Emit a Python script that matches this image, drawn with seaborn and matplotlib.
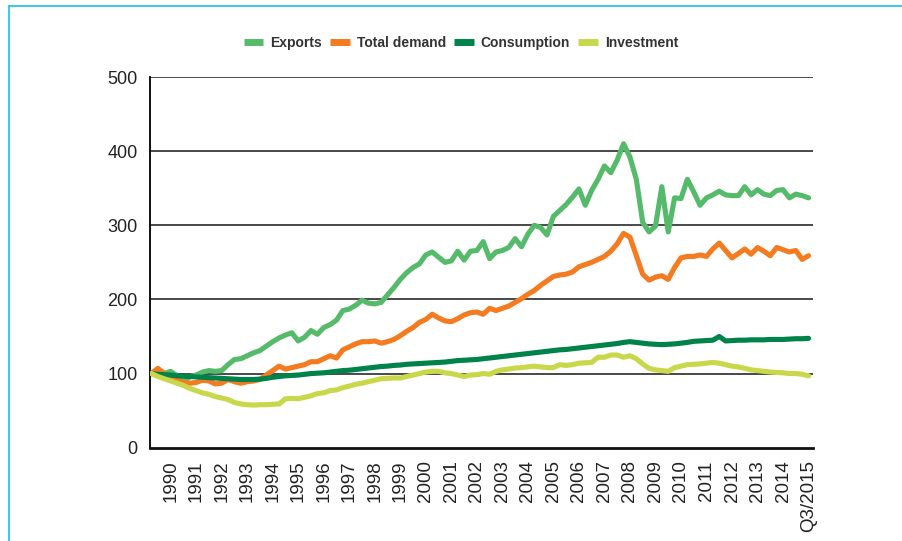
import numpy as np
import pandas as pd
import matplotlib
matplotlib.use("Agg")
import matplotlib.pyplot as plt
from matplotlib.lines import Line2D
import seaborn as sns

sns.set_style("white")
plt.rcParams['font.family'] = ['Liberation Sans', 'DejaVu Sans']

# quarterly index, 1990 = 100
exports = [100, 106, 100, 103, 97, 88, 96, 98, 102, 104, 103, 104, 112, 119, 120, 124,
           128, 131, 137, 143, 148, 152, 155, 144, 149, 158, 153, 162, 166, 172, 185, 187,
           192, 199, 195, 194, 196, 206, 216, 227, 236, 243, 248, 260, 264, 257, 250, 252,
           265, 253, 265, 266, 278, 255, 264, 266, 270, 282, 271, 288, 300, 297, 287, 312,
           320, 328, 338, 349, 327, 347, 362, 380, 371, 388, 410, 392, 362, 304, 291, 299,
           352, 291, 337, 336, 362, 345, 327, 337, 341, 346, 341, 340, 340, 352, 341, 348,
           342, 340, 347, 348, 337, 342, 340, 337]
total_demand = [100, 107, 100, 96, 92, 88, 87, 88, 91, 90, 86, 87, 92, 89, 87, 89,
                90, 92, 98, 104, 110, 106, 108, 110, 112, 116, 116, 120, 124, 121, 132, 136,
                140, 143, 143, 144, 141, 143, 146, 151, 157, 162, 169, 173, 180, 175, 171, 170,
                174, 179, 182, 183, 180, 188, 185, 188, 191, 196, 201, 207, 212, 219, 225, 231,
                233, 234, 237, 244, 247, 250, 254, 258, 265, 275, 289, 284, 259, 234, 226, 230,
                232, 227, 243, 256, 258, 258, 260, 258, 268, 276, 266, 256, 262, 268, 261, 270,
                265, 259, 270, 267, 264, 266, 254, 259]
consumption = [100, 99, 98.5, 98, 97, 96.5, 96, 95.5, 95, 94.5, 94, 93.5, 93, 92.5, 92, 92,
               92, 92.5, 93.5, 95, 96, 97, 97.5, 98, 99, 100, 100.5, 101, 102, 103, 104, 104.5,
               105.5, 106.5, 107.5, 108.5, 109.5, 110, 111, 111.5, 112.5, 113, 113.5, 114, 114.5, 115, 115.5, 116.5,
               117.5, 118, 118.5, 119, 120, 121, 122, 123, 124, 125, 126, 127, 128, 129, 130, 131,
               132, 132.5, 133.5, 134.5, 135.5, 136.5, 137.5, 138.5, 139.5, 140.5, 142, 143, 142, 141, 140, 139.5,
               139, 139.5, 140, 141, 142, 143.5, 144, 144.5, 145, 150, 144, 144.5, 145, 145, 145.5, 145.5,
               145.5, 146, 146, 146, 146.5, 147, 147, 147.5]
investment = [100, 96, 93, 90, 87, 84, 80, 77, 74, 72, 69, 67, 65, 61, 59, 58,
              57.5, 58, 58, 58.5, 59, 66, 66.5, 66, 68, 70, 73, 74, 77, 78, 81, 83,
              85.5, 87, 89, 91, 93, 93.5, 94, 94, 96, 98, 100, 102, 103, 103, 101, 100,
              98, 96, 98, 98.5, 100, 99, 103, 105, 106, 107.5, 108, 109, 110, 109, 108, 108,
              112, 111, 112, 114, 114.5, 115, 122, 122, 125, 125, 122, 124, 120, 113, 107, 105,
              104, 103, 108, 110, 112, 112.5, 113, 114, 115, 114, 112, 110, 109, 107, 105, 104,
              103, 102, 101.5, 101, 100, 100, 99, 97]

series_names = ["Exports", "Total demand", "Consumption", "Investment"]
colors = ["#55BB6A", "#F47B20", "#00834A", "#C8D84A"]

year_labels = [str(y) for y in range(1990, 2015)] + ["Q3/2015"]
tick_pos = list(range(3, 100, 4)) + [103]

quarters = np.arange(len(exports))
df = pd.DataFrame({
    "q": np.tile(quarters, 4),
    "value": exports + total_demand + consumption + investment,
    "series": np.repeat(series_names, len(quarters)),
})

fig = plt.figure(figsize=(9.03, 5.41), dpi=100)
ax = fig.add_axes([150 / 903, 1 - 447.7 / 541, 662.7 / 903, (447.7 - 77) / 541])

sns.lineplot(data=df, x="q", y="value", hue="series", hue_order=series_names,
             palette=colors, linewidth=3.7, legend=False, ax=ax, zorder=3)

ax.set_xlim(-0.235, 103.65)
ax.set_ylim(0, 500)
ax.set_yticks([0, 100, 200, 300, 400, 500])
ax.set_xticks(tick_pos)
ax.set_xticklabels(year_labels, rotation=90)
ax.tick_params(axis="y", length=0, pad=9, labelsize=13, colors="#222222")
ax.tick_params(axis="x", length=0, pad=9, labelsize=13.5, colors="#222222")
ax.set_xlabel("")
ax.set_ylabel("")

for v in [100, 200, 300, 400, 500]:
    ax.axhline(v, color="#2a2a2a", linewidth=1.2, zorder=1)

sns.despine(ax=ax, top=True, right=True)
ax.spines["left"].set_color("#111111")
ax.spines["left"].set_linewidth(1.4)
ax.spines["bottom"].set_color("#111111")
ax.spines["bottom"].set_linewidth(2)

# legend
handles = [Line2D([0], [0], color=c, linewidth=5, solid_capstyle="butt") for c in colors]
leg = fig.legend(handles, series_names, loc="center", bbox_to_anchor=(461 / 903, 1 - 43 / 541),
                 ncol=4, frameon=False, handlelength=1.4, handletextpad=0.5,
                 columnspacing=0.6, prop={"weight": "bold", "size": 10})
for t in leg.get_texts():
    t.set_color("#333333")

# light blue frame on left and top
fig.add_artist(Line2D([8.5 / 903, 8.5 / 903], [0, 1 - 6 / 541], color="#2BC4EE",
                      linewidth=1.3, transform=fig.transFigure))
fig.add_artist(Line2D([8.5 / 903, 1], [1 - 6 / 541, 1 - 6 / 541], color="#2BC4EE",
                      linewidth=1.3, transform=fig.transFigure))

fig.savefig("out.png", dpi=100)
